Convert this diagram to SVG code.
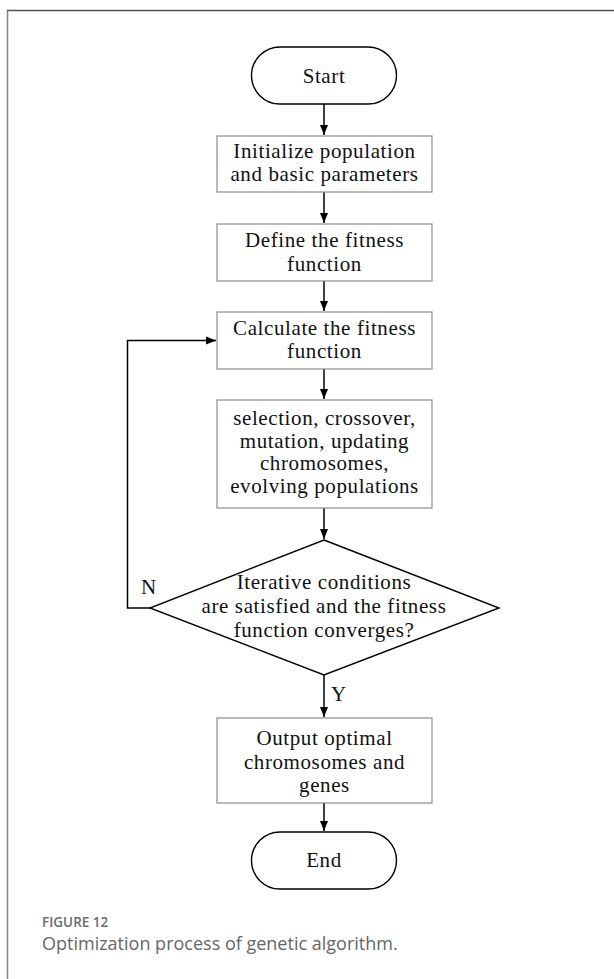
<svg xmlns="http://www.w3.org/2000/svg" width="614" height="979" viewBox="0 0 614 979">
<defs>
<marker id="ah" viewBox="0 0 10 10" refX="10" refY="5" markerWidth="10" markerHeight="10" markerUnits="userSpaceOnUse" orient="auto">
<path d="M0,1 L10,5 L0,9 Z" fill="#000"/>
</marker>
<style>
.t{font-family:"Liberation Serif","Times New Roman",serif;font-size:21px;letter-spacing:0.6px;fill:#111;text-anchor:middle}
.box{fill:#fff;stroke:#8c8c8c;stroke-width:1.2}
.term{fill:#fff;stroke:#000;stroke-width:1.4}
.con{fill:none;stroke:#000;stroke-width:1.5}
.lbl{font-family:"Liberation Serif","Times New Roman",serif;font-size:21px;fill:#111}
</style>
</defs>
<rect width="614" height="979" fill="#fff"/>
<path d="M7.5,979 V10.5" stroke="#8a8a8a" stroke-width="1.6" fill="none"/>
<path d="M7,10.5 H614" stroke="#555" stroke-width="1.4" fill="none"/>

<g id="connectors">
<path class="con" d="M324,104 V135" marker-end="url(#ah)"/>
<path class="con" d="M324,192 V223" marker-end="url(#ah)"/>
<path class="con" d="M324,281 V311" marker-end="url(#ah)"/>
<path class="con" d="M324,369 V399" marker-end="url(#ah)"/>
<path class="con" d="M324,508 V539" marker-end="url(#ah)"/>
<path class="con" d="M150,608 H127.5 V340.5 H216" marker-end="url(#ah)"/>
<path class="con" d="M324,675 V717" marker-end="url(#ah)"/>
<path class="con" d="M324,803 V831" marker-end="url(#ah)"/>
<text class="lbl" x="141" y="594">N</text>
<text class="lbl" x="331" y="701">Y</text>
</g>

<g id="start">
<rect class="term" x="251.5" y="47" width="145" height="57" rx="28.5"/>
<text class="t" x="324" y="83">Start</text>
</g>
<g id="init">
<rect class="box" x="217" y="136" width="215" height="56"/>
<text class="t" x="324.5" y="158">Initialize population</text>
<text class="t" x="324.5" y="181">and basic parameters</text>
</g>
<g id="define">
<rect class="box" x="217" y="224" width="215" height="57"/>
<text class="t" x="324.5" y="247">Define the fitness</text>
<text class="t" x="324.5" y="271">function</text>
</g>
<g id="calc">
<rect class="box" x="217" y="312" width="215" height="57"/>
<text class="t" x="324.5" y="335">Calculate the fitness</text>
<text class="t" x="324.5" y="358">function</text>
</g>
<g id="evolve">
<rect class="box" x="217" y="400" width="215" height="108"/>
<text class="t" x="324.5" y="425">selection, crossover,</text>
<text class="t" x="324.5" y="447.5">mutation, updating</text>
<text class="t" x="324.5" y="470">chromosomes,</text>
<text class="t" x="324.5" y="492.5">evolving populations</text>
</g>
<g id="decision">
<polygon class="term" points="324,540 499,608 324,675 150,608"/>
<text class="t" x="324" y="589">Iterative conditions</text>
<text class="t" x="324" y="613">are satisfied and the fitness</text>
<text class="t" x="324" y="637">function converges?</text>
</g>
<g id="output">
<rect class="box" x="217" y="718" width="215" height="85"/>
<text class="t" x="324.5" y="745">Output optimal</text>
<text class="t" x="324.5" y="769">chromosomes and</text>
<text class="t" x="324.5" y="792">genes</text>
</g>
<g id="end">
<rect class="term" x="251.5" y="832" width="145" height="57" rx="28.5"/>
<text class="t" x="324" y="867">End</text>
</g>

<text x="42" y="927" font-family="'Open Sans',Lato,sans-serif" font-size="13.5" font-weight="600" fill="#6b6b6b">FIGURE 12</text>
<text x="42" y="950" font-family="'Open Sans',Lato,sans-serif" font-size="18" fill="#666">Optimization process of genetic algorithm.</text>
</svg>
